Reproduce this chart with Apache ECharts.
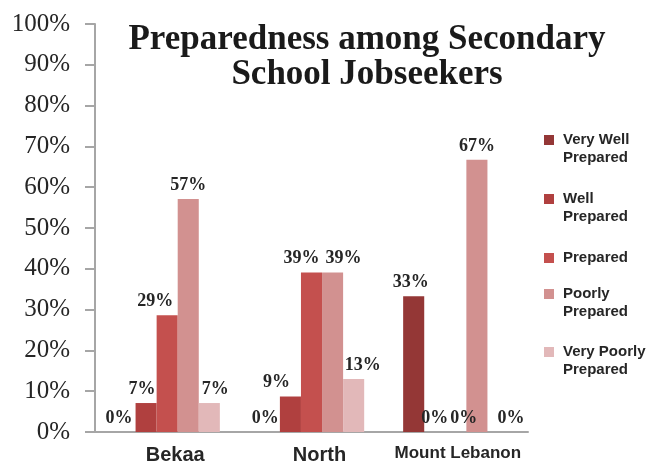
<!DOCTYPE html>
<html>
<head>
<meta charset="utf-8">
<script src="https://cdn.jsdelivr.net/npm/echarts@6/dist/echarts.min.js"></script>
<style>
  html, body { margin: 0; padding: 0; background: #fff; }
  #chart { width: 647px; height: 465px; }
</style>
</head>
<body>
<div id="chart"></div>
<script>
// categories and series (percent of jobseekers in each region)
const regions = ['Bekaa', 'North', 'Mount Lebanon']
const levels = ['Very Well\nPrepared', 'Well\nPrepared', 'Prepared', 'Poorly\nPrepared', 'Very Poorly\nPrepared']
const veryWell = [0, 0, 33.3]
const well = [7.1, 8.7, 0]
const prepared = [28.6, 39.1, 0]
const poorly = [57.1, 39.1, 66.7]
const veryPoorly = [7.1, 13.0, 0]
const colors = ['#943736', '#B0403F', '#C4504E', '#D29190', '#E2B8B9']

// sideways nudges of the value labels (px), as they were placed in the original
const labelShift = [
  [-6, -4, -3],
  [-4, -14, 0],
  [-12, -10, 8],
  [0, 11, 0],
  [6, 9, 13]
]

const serif = '"Liberation Serif", "DejaVu Serif", serif'
const sans = '"Liberation Sans", Arial, sans-serif'

// square aligned with the first text line for two-line entries
const iconTwo = 'path://M0,0h10v10h-10z M0,28h10v0.01h-10z'
const legendTops = [131, 190, 249, 285, 343]

const chart = echarts.init(document.getElementById('chart'))

const seriesData = [veryWell, well, prepared, poorly, veryPoorly]

// one legend block per entry so each can sit where the original has it
const legends = levels.map((name, i) => {
  const twoLines = name.indexOf('\n') > -1
  return {
    orient: 'vertical',
    left: 544,
    top: legendTops[i],
    padding: 0,
    itemWidth: 10,
    itemHeight: twoLines ? 28 : 10,
    icon: twoLines ? iconTwo : 'rect',
    textStyle: {
      fontFamily: sans,
      fontWeight: 'bold',
      fontSize: 15,
      lineHeight: 18,
      color: '#262626',
      padding: [0, 0, 0, 4]
    },
    data: [name]
  }
})

chart.setOption({
  animation: false,
  title: {
    text: 'Preparedness among Secondary\nSchool Jobseekers',
    left: 362,
    top: 17,
    textAlign: 'center',
    textStyle: {
      fontFamily: serif,
      fontWeight: 'bold',
      fontSize: 35,
      lineHeight: 35,
      color: '#1a1a1a'
    }
  },
  legend: legends,
  grid: {
    left: 95,
    right: 119,
    top: 24,
    bottom: 32
  },
  xAxis: {
    type: 'category',
    data: regions,
    axisLine: { lineStyle: { color: '#A6A6A6', width: 2 } },
    axisTick: { length: 8, lineStyle: { color: '#A6A6A6', width: 2 } },
    axisLabel: {
      interval: 0,
      margin: 13,
      fontFamily: sans,
      fontWeight: 'bold',
      fontSize: 20,
      color: '#262626',
      formatter: v => v === 'Mount Lebanon' ? '{s|' + v + '}' : '{b|' + v + '}',
      rich: {
        b: { fontFamily: sans, fontWeight: 'bold', fontSize: 20, color: '#262626', padding: [0, 0, 0, 16] },
        s: { fontFamily: sans, fontWeight: 'bold', fontSize: 17, color: '#262626', padding: [0, 0, 0, 4] }
      }
    }
  },
  yAxis: {
    type: 'value',
    min: 0,
    max: 100,
    interval: 10,
    splitLine: { show: false },
    axisLine: { show: true, lineStyle: { color: '#A6A6A6', width: 2 } },
    axisTick: { show: true, length: 10, lineStyle: { color: '#A6A6A6', width: 2 } },
    axisLabel: {
      margin: 25,
      fontFamily: serif,
      fontSize: 25,
      color: '#262626',
      formatter: '{value}%'
    }
  },
  series: levels.map((name, i) => ({
    name: name,
    type: 'bar',
    data: seriesData[i].map((v, j) => ({
      value: v,
      label: { offset: [labelShift[i][j], 0] }
    })),
    barGap: '0%',
    barCategoryGap: '27%',
    itemStyle: { color: colors[i] },
    label: {
      show: true,
      position: 'top',
      distance: 5,
      fontFamily: serif,
      fontWeight: 'bold',
      fontSize: 18,
      color: '#262626',
      formatter: p => Math.round(p.value) + '%'
    }
  }))
})
</script>
</body>
</html>
